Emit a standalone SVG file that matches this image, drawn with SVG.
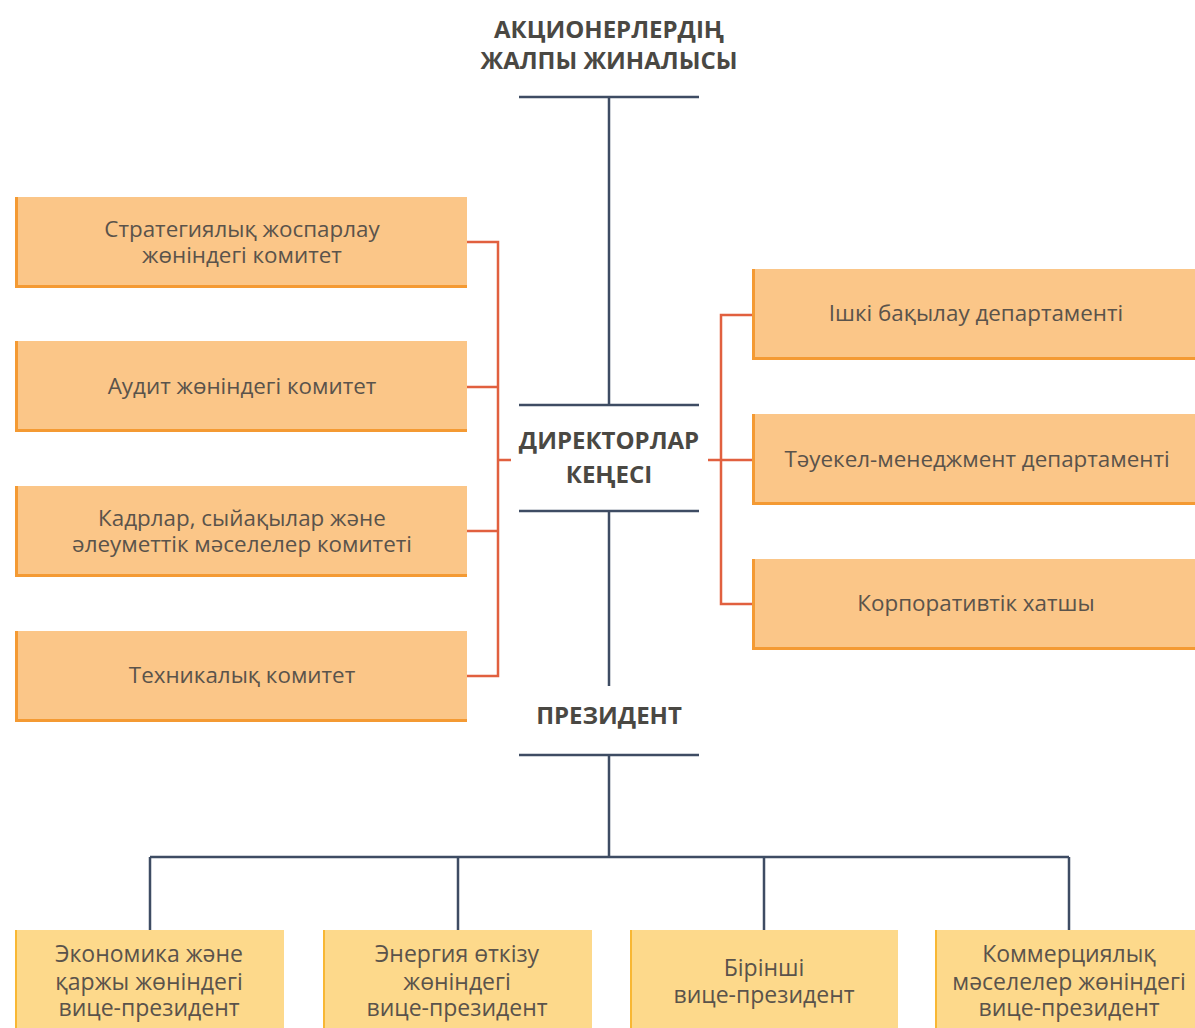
<svg xmlns="http://www.w3.org/2000/svg" width="1195" height="1028" viewBox="0 0 1195 1028">
<style>
.lbox{fill:#FBC688}
.lbd{fill:#F49A33}
.bbox{fill:#FDD98B}
.bbd{fill:#F8B734}
.t{font-family:"Open Sans","Noto Sans","Liberation Sans",sans-serif;font-size:22.4px;fill:#5A534B;text-anchor:middle}
.b{font-size:23px}
.h{font-family:"Open Sans","Noto Sans","Liberation Sans",sans-serif;font-size:24px;font-weight:bold;fill:#4A4843;text-anchor:middle}
.dk{stroke:#3E4C63;stroke-width:2.5;fill:none}
.rd{stroke:#E1603F;stroke-width:2.5;fill:none}
</style>
<rect width="1195" height="1028" fill="#FFFFFF"/>
<g id="connectors">
<path class="dk" d="M519 97H699M609 97V405M519 405H699M519 511H699M609 511V686M519 755H699M609 755V857M150 857H1069M150 857V930M458 857V930M764 857V930M1069 857V930"/>
<path class="rd" d="M467 242H498V676H467M467 387H498M467 531H498M498 460H511"/>
<path class="rd" d="M752 315H721V604H752M721 460H752M708 460H721"/>
</g>
<g id="n-shareholders"><text class="h" x="609" y="38">АКЦИОНЕРЛЕРДІҢ</text><text class="h" x="609" y="69">ЖАЛПЫ ЖИНАЛЫСЫ</text></g>
<g id="n-board"><text class="h" x="609" y="449">ДИРЕКТОРЛАР</text><text class="h" x="609" y="483">КЕҢЕСІ</text></g>
<g id="n-president"><text class="h" x="609" y="724">ПРЕЗИДЕНТ</text></g>
<g id="n-strat"><rect class="lbox" x="15" y="197" width="452" height="91"/><rect class="lbd" x="15" y="197" width="3" height="91"/><rect class="lbd" x="15" y="285" width="452" height="3"/><text class="t" x="242" y="237">Стратегиялық жоспарлау</text><text class="t" x="242" y="263">жөніндегі комитет</text></g>
<g id="n-audit"><rect class="lbox" x="15" y="341" width="452" height="91"/><rect class="lbd" x="15" y="341" width="3" height="91"/><rect class="lbd" x="15" y="429" width="452" height="3"/><text class="t" x="242" y="394">Аудит жөніндегі комитет</text></g>
<g id="n-hr"><rect class="lbox" x="15" y="486" width="452" height="91"/><rect class="lbd" x="15" y="486" width="3" height="91"/><rect class="lbd" x="15" y="574" width="452" height="3"/><text class="t" x="242" y="526">Кадрлар, сыйақылар және</text><text class="t" x="242" y="552">әлеуметтік мәселелер комитеті</text></g>
<g id="n-tech"><rect class="lbox" x="15" y="631" width="452" height="91"/><rect class="lbd" x="15" y="631" width="3" height="91"/><rect class="lbd" x="15" y="719" width="452" height="3"/><text class="t" x="242" y="683">Техникалық комитет</text></g>
<g id="n-audit-dept"><rect class="lbox" x="752" y="269" width="443" height="91"/><rect class="lbd" x="752" y="269" width="3" height="91"/><rect class="lbd" x="752" y="357" width="443" height="3"/><text class="t" x="976" y="321">Ішкі бақылау департаменті</text></g>
<g id="n-risk"><rect class="lbox" x="752" y="414" width="443" height="91"/><rect class="lbd" x="752" y="414" width="3" height="91"/><rect class="lbd" x="752" y="502" width="443" height="3"/><text class="t" x="977" y="467">Тәуекел-менеджмент департаменті</text></g>
<g id="n-secretary"><rect class="lbox" x="752" y="559" width="443" height="91"/><rect class="lbd" x="752" y="559" width="3" height="91"/><rect class="lbd" x="752" y="647" width="443" height="3"/><text class="t" x="976" y="611">Корпоративтік хатшы</text></g>
<g id="n-vp-econ"><rect class="bbox" x="15" y="930" width="269" height="98"/><rect class="bbd" x="15" y="930" width="2" height="98"/><text class="t b" x="149" y="962">Экономика және</text><text class="t b" x="149" y="990">қаржы жөніндегі</text><text class="t b" x="149" y="1016">вице-президент</text></g>
<g id="n-vp-energy"><rect class="bbox" x="323" y="930" width="269" height="98"/><rect class="bbd" x="323" y="930" width="2" height="98"/><text class="t b" x="457" y="962">Энергия өткізу</text><text class="t b" x="457" y="990">жөніндегі</text><text class="t b" x="457" y="1016">вице-президент</text></g>
<g id="n-vp-first"><rect class="bbox" x="630" y="930" width="268" height="98"/><rect class="bbd" x="630" y="930" width="2" height="98"/><text class="t b" x="764" y="976">Бірінші</text><text class="t b" x="764" y="1003">вице-президент</text></g>
<g id="n-vp-comm"><rect class="bbox" x="935" y="930" width="260" height="98"/><rect class="bbd" x="935" y="930" width="2" height="98"/><text class="t b" x="1069" y="962">Коммерциялық</text><text class="t b" x="1069" y="990">мәселелер жөніндегі</text><text class="t b" x="1069" y="1016">вице-президент</text></g>
</svg>
